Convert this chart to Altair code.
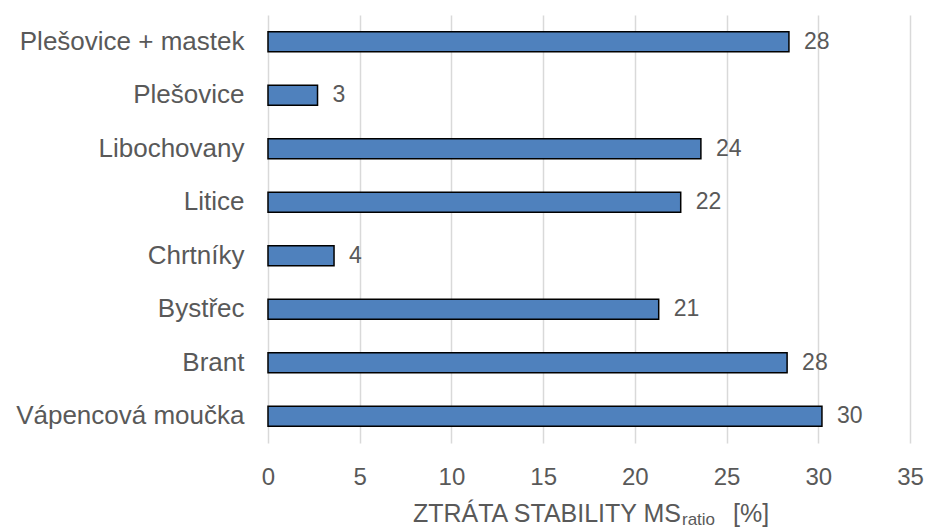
import altair as alt
import pandas as pd

# Loss of stability by filler type
categories = [
    "Plešovice + mastek",
    "Plešovice",
    "Libochovany",
    "Litice",
    "Chrtníky",
    "Bystřec",
    "Brant",
    "Vápencová moučka",
]
values = [28.4, 2.7, 23.6, 22.5, 3.6, 21.3, 28.3, 30.2]
x_ticks = [0, 5, 10, 15, 20, 25, 30, 35]

df = pd.DataFrame({"kategorie": categories, "hodnota": values})
df["popisek"] = df["hodnota"].round(0).astype(int).astype(str)

TEXT = "#595959"
FONT = "Liberation Sans"
W, H = 642, 428

x_enc = alt.X(
    "hodnota:Q",
    scale=alt.Scale(domain=[0, 35], nice=False),
    axis=alt.Axis(
        values=x_ticks,
        title=None,
        domain=False,
        ticks=False,
        labelFlush=False,
        labelPadding=22,
        labelFontSize=24,
        labelColor=TEXT,
        labelFont=FONT,
        grid=True,
        gridColor="#d9d9d9",
        gridWidth=1.5,
    ),
)
y_enc = alt.Y(
    "kategorie:N",
    sort=categories,
    scale=alt.Scale(paddingInner=0, paddingOuter=0),
    axis=alt.Axis(
        title=None,
        domain=False,
        ticks=False,
        labelPadding=24,
        labelFontSize=26,
        labelColor=TEXT,
        labelFont=FONT,
        labelLimit=400,
        grid=False,
    ),
)

bars = alt.Chart(df).mark_bar(
    size=20, color="#4f81bd", stroke="#000000", strokeWidth=1.5
).encode(x=x_enc, y=y_enc)

labels = alt.Chart(df).mark_text(
    align="left", baseline="middle", dx=15, fontSize=23, color=TEXT, font=FONT
).encode(x="hodnota:Q", y=alt.Y("kategorie:N", sort=categories), text="popisek:N")

# Axis title with subscript, composed from three text pieces
title_df = pd.DataFrame({"t": ["ZTRÁTA STABILITY MS"]})
title_main = alt.Chart(title_df).mark_text(
    align="right", baseline="alphabetic", fontSize=25, color=TEXT, font=FONT
).encode(x=alt.value(413), y=alt.value(507), text="t:N")

sub_df = pd.DataFrame({"t": ["ratio"]})
title_sub = alt.Chart(sub_df).mark_text(
    align="left", baseline="alphabetic", fontSize=17, color=TEXT, font=FONT
).encode(x=alt.value(414), y=alt.value(510), text="t:N")

unit_df = pd.DataFrame({"t": ["[%]"]})
title_unit = alt.Chart(unit_df).mark_text(
    align="left", baseline="alphabetic", fontSize=25, color=TEXT, font=FONT
).encode(x=alt.value(465), y=alt.value(507), text="t:N")

chart = (
    alt.layer(bars, labels, title_main, title_sub, title_unit)
    .properties(
        width=W,
        height=H,
        autosize=alt.AutoSizeParams(type="none"),
        padding={"left": 268, "top": 15, "right": 15, "bottom": 84},
        background="white",
    )
    .configure_view(stroke=None)
)

chart.save("out.html", embed_options={"renderer": "svg", "actions": False})
